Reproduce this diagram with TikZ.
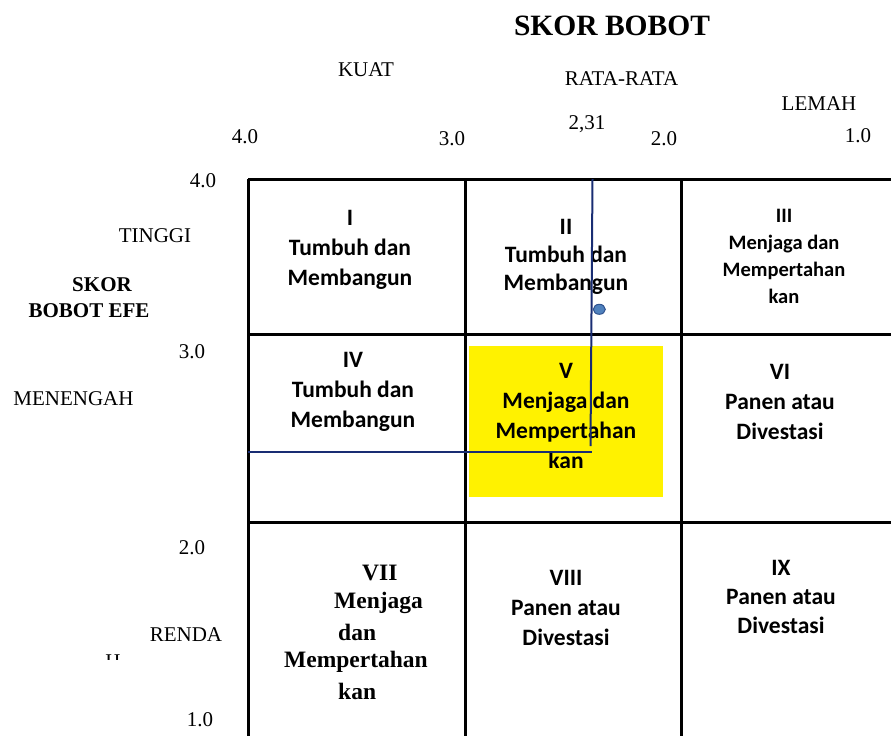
\documentclass[tikz,border=0pt]{standalone}
\usepackage{fontspec}
\usetikzlibrary{shapes.geometric}
\setmainfont{Liberation Serif}
\newfontfamily\cellfont{Carlito}
\definecolor{navy}{RGB}{25,45,115}
\definecolor{dotfill}{RGB}{79,129,189}
\definecolor{dotline}{RGB}{47,82,143}
\begin{document}
\begin{tikzpicture}[x=1pt,y=-1pt,
  axis/.style={font=\fontsize{21}{25}\selectfont, inner sep=0pt},
  axisb/.style={font=\bfseries\fontsize{21}{26}\selectfont, inner sep=0pt},
  cell/.style={font=\cellfont\bfseries\fontsize{23.5}{30}\selectfont, align=center, inner sep=0pt},
  cellsm/.style={font=\cellfont\bfseries\fontsize{20.5}{27}\selectfont, align=center, inner sep=0pt},
  serifcell/.style={font=\bfseries\fontsize{23.5}{29.5}\selectfont, inner sep=0pt, anchor=west},
  gridline/.style={line width=3pt, black},
  blueline/.style={line width=2pt, navy}]
\useasboundingbox (0,0) rectangle (891,736);
% yellow highlight
\fill[yellow] (469,346) rectangle (663,497);
% grid
\draw[gridline] (248,179) -- (891,179);
\draw[gridline] (248,334) -- (891,334);
\draw[gridline] (248,522) -- (891,522);
\draw[gridline] (248,179) -- (248,736);
\draw[gridline] (465,179) -- (465,736);
\draw[gridline] (681,179) -- (681,736);
% title and axis labels
\node[font=\bfseries\fontsize{29.5}{34}\selectfont, inner sep=0pt] (title) at (612,26) {SKOR BOBOT};
\node[axis] (kuat) at (366,70) {KUAT};
\node[axis] (rata) at (621.5,78.5) {RATA-RATA};
\node[axis] (lemah) at (819,104) {LEMAH};
\node[axis] (x4) at (245,137) {4.0};
\node[axis] (x3) at (452,139) {3.0};
\node[axis] (x231) at (587,124) {2,31};
\node[axis] (x2) at (664,139) {2.0};
\node[axis] (x1) at (858,136) {1.0};
\node[axis] (y4) at (203,181) {4.0};
\node[axis] (tinggi) at (155,236) {TINGGI};
\node[axisb] (skor) at (102,285) {SKOR};
\node[axisb] (efe) at (89,311) {BOBOT EFE};
\node[axis] (y3) at (192,352) {3.0};
\node[axis] (menengah) at (73.5,398.5) {MENENGAH};
\node[axis] (y2) at (192,548) {2.0};
\node[axis] (renda) at (186,635) {RENDA};
\begin{scope}
\clip (95,650) rectangle (135,659);
\node[axis, anchor=base] (hcut) at (113,668) {H};
\end{scope}
\node[axis] (y1) at (200,720) {1.0};
% cells
\node[cell] (c1) at (350,250) {I\\Tumbuh dan\\Membangun};
\node[cell, font=\cellfont\bfseries\fontsize{23.5}{28}\selectfont] (c2) at (566,257) {II\\Tumbuh dan\\Membangun};
\node[cellsm] (c3) at (784,256) {III\\Menjaga dan\\Mempertahan\\kan};
\node[cell] (c4) at (353,392) {IV\\Tumbuh dan\\Membangun};
\node[cell] (c5) at (566,416) {V\\Menjaga dan\\Mempertahan\\kan};
\node[cell] (c6) at (780,402) {VI\\Panen atau\\Divestasi};
\node[serifcell] (c7a) at (362,573) {VII};
\node[serifcell] (c7b) at (334,603) {Menjaga};
\node[serifcell] (c7c) at (338,632) {dan};
\node[serifcell] (c7d) at (284,662) {Mempertahan};
\node[serifcell] (c7e) at (338,691) {kan};
\node[cell] (c8) at (566,608) {VIII\\Panen atau\\Divestasi};
\node[cell, font=\cellfont\bfseries\fontsize{23.5}{29}\selectfont] (c9) at (781,597) {IX\\Panen atau\\Divestasi};
% position lines
\coordinate (vtop) at (592.5,179);
\coordinate (vbot) at (590.5,446);
\coordinate (hleft) at (248,452);
\coordinate (hright) at (592,452);
\draw[blueline] (vtop) -- (vbot);
\draw[blueline] (hleft) -- (hright);
\node[ellipse, draw=dotline, fill=dotfill, line width=1pt, minimum width=12pt, minimum height=10pt, inner sep=0pt] (dot) at (599.3,309.3) {};
\end{tikzpicture}
\end{document}
